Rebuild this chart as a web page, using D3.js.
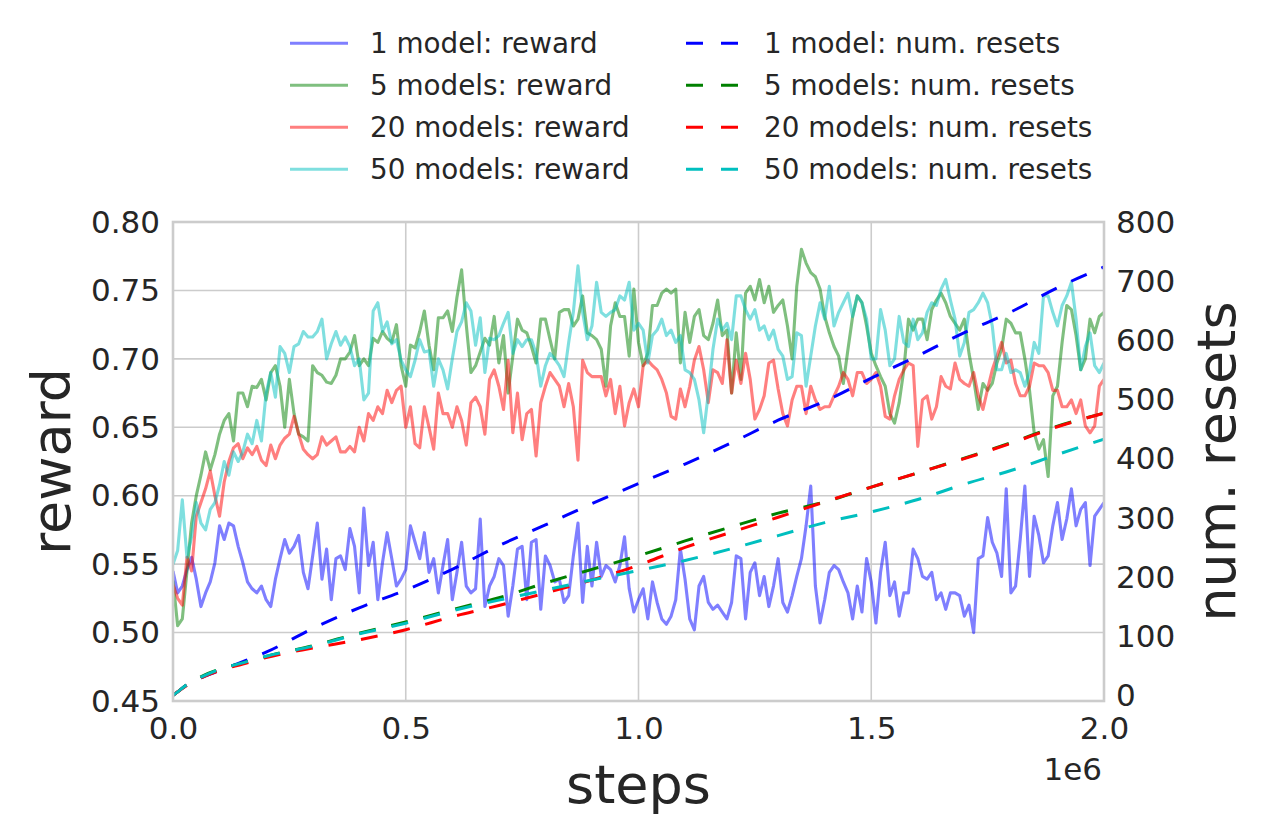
<!DOCTYPE html>
<html>
<head>
<meta charset="utf-8">
<script src="https://cdn.jsdelivr.net/npm/d3@7"></script>
<style>
  html, body { margin: 0; padding: 0; background: #ffffff; }
  svg { display: block; }
  text { font-family: "DejaVu Sans", sans-serif; fill: #262626; }
</style>
</head>
<body>
<svg id="chart" width="1266" height="834"></svg>
<script>
// ---------------- data ----------------
// reward series sampled every 10,000 steps from 0 to 2,000,000 (201 values)
const rewardStepSize = 10000;

const reward1 = [
0.545,0.529,0.534,0.546,0.555,0.539,0.519,0.529,0.537,0.551,
0.578,0.568,0.580,0.578,0.563,0.551,0.537,0.532,0.529,0.534,
0.524,0.519,0.539,0.554,0.568,0.558,0.563,0.571,0.544,0.532,
0.556,0.580,0.539,0.561,0.524,0.554,0.556,0.546,0.576,0.563,
0.529,0.591,0.549,0.566,0.524,0.551,0.573,0.554,0.534,0.539,
0.546,0.578,0.566,0.554,0.573,0.544,0.554,0.529,0.549,0.568,
0.524,0.544,0.566,0.534,0.529,0.532,0.583,0.519,0.534,0.541,
0.554,0.549,0.512,0.534,0.561,0.563,0.524,0.566,0.568,0.517,
0.556,0.549,0.537,0.539,0.522,0.527,0.556,0.580,0.522,0.563,
0.534,0.566,0.541,0.549,0.546,0.537,0.549,0.570,0.532,0.515,
0.524,0.532,0.510,0.537,0.522,0.510,0.506,0.512,0.524,0.561,
0.539,0.510,0.502,0.534,0.541,0.522,0.517,0.520,0.515,0.510,
0.522,0.556,0.554,0.510,0.544,0.551,0.527,0.541,0.519,0.534,
0.554,0.522,0.515,0.527,0.541,0.554,0.578,0.607,0.534,0.507,
0.524,0.544,0.549,0.546,0.537,0.529,0.510,0.534,0.515,0.554,
0.537,0.507,0.544,0.566,0.527,0.537,0.512,0.529,0.529,0.561,
0.554,0.541,0.539,0.544,0.524,0.529,0.517,0.529,0.529,0.527,
0.512,0.520,0.500,0.554,0.556,0.584,0.566,0.558,0.541,0.605,
0.529,0.534,0.568,0.607,0.541,0.585,0.571,0.551,0.556,0.578,
0.595,0.568,0.583,0.605,0.578,0.590,0.595,0.549,0.585,0.590,
0.595
];

const reward5 = [
0.538,0.505,0.510,0.545,0.580,0.600,0.615,0.632,0.619,0.630,
0.645,0.655,0.660,0.640,0.675,0.675,0.665,0.680,0.679,0.685,
0.670,0.690,0.695,0.680,0.650,0.685,0.660,0.645,0.643,0.640,
0.695,0.690,0.688,0.683,0.682,0.688,0.700,0.700,0.705,0.717,
0.695,0.700,0.695,0.715,0.712,0.720,0.715,0.712,0.725,0.695,
0.680,0.710,0.708,0.720,0.735,0.710,0.692,0.730,0.730,0.735,
0.720,0.745,0.765,0.725,0.690,0.695,0.705,0.715,0.710,0.731,
0.697,0.717,0.675,0.702,0.729,0.721,0.719,0.709,0.697,0.729,
0.729,0.714,0.700,0.734,0.736,0.736,0.724,0.729,0.746,0.719,
0.717,0.714,0.707,0.680,0.724,0.741,0.731,0.731,0.702,0.751,
0.712,0.695,0.704,0.739,0.739,0.748,0.751,0.748,0.751,0.697,
0.734,0.712,0.731,0.736,0.717,0.714,0.726,0.743,0.717,0.721,
0.675,0.719,0.685,0.748,0.753,0.743,0.758,0.741,0.753,0.734,
0.739,0.743,0.724,0.700,0.753,0.780,0.770,0.763,0.760,0.751,
0.731,0.719,0.709,0.702,0.682,0.707,0.731,0.746,0.741,0.724,
0.704,0.695,0.687,0.680,0.660,0.653,0.668,0.692,0.729,0.721,
0.729,0.729,0.714,0.736,0.743,0.748,0.741,0.731,0.726,0.721,
0.729,0.704,0.685,0.663,0.682,0.677,0.682,0.697,0.707,0.729,
0.726,0.719,0.719,0.700,0.677,0.646,0.634,0.641,0.614,0.673,
0.680,0.712,0.739,0.736,0.717,0.692,0.700,0.729,0.719,0.731,
0.734
];

const reward20 = [
0.535,0.525,0.520,0.555,0.545,0.585,0.595,0.605,0.618,0.600,
0.585,0.610,0.625,0.635,0.638,0.627,0.635,0.630,0.636,0.626,
0.622,0.637,0.627,0.637,0.642,0.645,0.658,0.645,0.634,0.630,
0.627,0.630,0.643,0.637,0.640,0.643,0.632,0.632,0.636,0.632,
0.650,0.640,0.660,0.655,0.665,0.660,0.677,0.668,0.677,0.680,
0.650,0.665,0.638,0.635,0.665,0.650,0.634,0.675,0.660,0.660,
0.650,0.665,0.655,0.637,0.668,0.672,0.665,0.645,0.685,0.692,
0.680,0.663,0.699,0.646,0.675,0.641,0.660,0.663,0.629,0.668,
0.680,0.690,0.685,0.680,0.665,0.682,0.665,0.626,0.699,0.690,
0.687,0.687,0.687,0.673,0.685,0.660,0.680,0.651,0.668,0.678,
0.665,0.695,0.699,0.695,0.692,0.685,0.675,0.658,0.656,0.678,
0.665,0.680,0.699,0.709,0.692,0.668,0.692,0.690,0.682,0.714,
0.675,0.699,0.682,0.704,0.685,0.656,0.663,0.673,0.697,0.699,
0.678,0.660,0.651,0.670,0.680,0.680,0.660,0.680,0.670,0.663,
0.665,0.665,0.673,0.680,0.690,0.685,0.673,0.690,0.690,0.682,
0.685,0.690,0.680,0.658,0.656,0.673,0.685,0.692,0.697,0.695,
0.636,0.670,0.673,0.656,0.665,0.687,0.680,0.678,0.697,0.685,
0.682,0.680,0.690,0.673,0.663,0.678,0.692,0.702,0.712,0.697,
0.699,0.682,0.673,0.673,0.680,0.697,0.695,0.695,0.690,0.677,
0.677,0.665,0.665,0.670,0.660,0.670,0.651,0.646,0.651,0.680,
0.685
];

const reward50 = [
0.550,0.560,0.597,0.555,0.570,0.595,0.580,0.575,0.590,0.595,
0.608,0.625,0.615,0.632,0.625,0.632,0.645,0.638,0.655,0.640,
0.675,0.690,0.672,0.709,0.704,0.690,0.709,0.711,0.720,0.716,
0.716,0.720,0.729,0.700,0.711,0.720,0.710,0.716,0.709,0.695,
0.700,0.670,0.675,0.735,0.741,0.720,0.727,0.711,0.714,0.699,
0.692,0.687,0.699,0.714,0.705,0.706,0.680,0.700,0.692,0.678,
0.700,0.720,0.727,0.741,0.735,0.710,0.730,0.690,0.715,0.714,
0.717,0.726,0.734,0.704,0.714,0.709,0.714,0.714,0.704,0.680,
0.695,0.704,0.700,0.695,0.687,0.712,0.734,0.768,0.734,0.714,
0.724,0.756,0.734,0.731,0.734,0.736,0.746,0.743,0.756,0.721,
0.726,0.721,0.697,0.717,0.721,0.729,0.717,0.721,0.712,0.717,
0.692,0.690,0.685,0.670,0.646,0.675,0.707,0.729,0.721,0.726,
0.714,0.746,0.746,0.736,0.729,0.736,0.721,0.724,0.714,0.721,
0.707,0.702,0.685,0.687,0.719,0.717,0.680,0.702,0.724,0.741,
0.729,0.753,0.724,0.734,0.741,0.748,0.731,0.746,0.741,0.729,
0.700,0.700,0.736,0.721,0.695,0.700,0.731,0.712,0.709,0.729,
0.714,0.719,0.734,0.741,0.739,0.751,0.758,0.743,0.729,0.702,
0.712,0.734,0.736,0.741,0.748,0.741,0.724,0.692,0.692,0.704,
0.690,0.692,0.690,0.680,0.690,0.712,0.704,0.746,0.746,0.734,
0.724,0.739,0.746,0.756,0.729,0.692,0.709,0.719,0.695,0.690,
0.697
];

// number of resets (right axis)
const resetSteps = [0, 10000, 30000, 64000, 100000, 150000, 200000, 300000, 400000, 500000,
  600000, 700000, 800000, 900000, 1000000, 1100000, 1200000, 1300000, 1400000, 1500000,
  1600000, 1700000, 1800000, 1900000, 2000000];
const resets1  = [0, 6, 18, 31, 42, 57, 73, 113, 148, 178, 213, 253, 288, 324, 358, 391, 427, 465, 497, 536, 574, 613, 648, 689, 724];
const resets5  = [0, 6, 18, 33, 44, 55, 66, 84, 105, 124, 145, 165, 190, 213, 236, 261, 285, 308, 327, 352, 376, 401, 427, 455, 477];
const resets20 = [0, 6, 17, 31, 42, 53, 64, 80, 94, 111, 133, 152, 173, 195, 220, 250, 276, 301, 327, 352, 376, 400, 426, 454, 477];
const resets50 = [0, 6, 18, 32, 44, 55, 66, 83, 104, 122, 143, 161, 178, 195, 211, 228, 248, 270, 292, 310, 331, 357, 380, 407, 433];

const xTicks = [0, 500000, 1000000, 1500000, 2000000];
const yLeftTicks = [0.45, 0.50, 0.55, 0.60, 0.65, 0.70, 0.75, 0.80];
const yRightTicks = [0, 100, 200, 300, 400, 500, 600, 700, 800];

const rewardSeries = [
  { label: "1 model: reward",   values: reward1,  color: "#0000ff" },
  { label: "5 models: reward",  values: reward5,  color: "#008000" },
  { label: "20 models: reward", values: reward20, color: "#ff0000" },
  { label: "50 models: reward", values: reward50, color: "#00bfbf" }
];
const resetSeries = [
  { label: "1 model: num. resets",   values: resets1,  color: "#0000ff" },
  { label: "5 models: num. resets",  values: resets5,  color: "#008000" },
  { label: "20 models: num. resets", values: resets20, color: "#ff0000" },
  { label: "50 models: num. resets", values: resets50, color: "#00bfbf" }
];

// ---------------- layout ----------------
const L = 173, R = 1104, T = 222, B = 701;
const svg = d3.select("#chart");

const x = d3.scaleLinear().domain([0, 2000000]).range([L, R]);
const yL = d3.scaleLinear().domain([0.45, 0.80]).range([B, T]);
const yR = d3.scaleLinear().domain([-9.5, 800]).range([B, T]);

// gridlines
const grid = svg.append("g");
grid.selectAll("line.hg").data(yLeftTicks.slice(1, -1)).join("line")
  .attr("x1", L).attr("x2", R)
  .attr("y1", d => yL(d)).attr("y2", d => yL(d))
  .attr("stroke", "#cccccc").attr("stroke-width", 1.6);
grid.selectAll("line.vg").data(xTicks.slice(1, -1)).join("line")
  .attr("y1", T).attr("y2", B)
  .attr("x1", d => x(d)).attr("x2", d => x(d))
  .attr("stroke", "#cccccc").attr("stroke-width", 1.6);

// clip
svg.append("clipPath").attr("id", "plotclip")
  .append("rect").attr("x", L).attr("y", T).attr("width", R - L).attr("height", B - T);

const plot = svg.append("g").attr("clip-path", "url(#plotclip)");

const rewardLine = d3.line()
  .x((d, i) => x(i * rewardStepSize))
  .y(d => yL(d));

rewardSeries.forEach(s => {
  plot.append("path")
    .datum(s.values)
    .attr("d", rewardLine)
    .attr("fill", "none")
    .attr("stroke", s.color)
    .attr("stroke-opacity", 0.5)
    .attr("stroke-width", 3.1)
    .attr("stroke-linejoin", "round");
});

const resetLine = d3.line()
  .x((d, i) => x(resetSteps[i]))
  .y(d => yR(d))
  .curve(d3.curveMonotoneX);

resetSeries.forEach(s => {
  plot.append("path")
    .datum(s.values)
    .attr("d", resetLine)
    .attr("fill", "none")
    .attr("stroke", s.color)
    .attr("stroke-width", 3)
    .attr("stroke-dasharray", "17,16");
});

// frame
svg.append("rect")
  .attr("x", L).attr("y", T).attr("width", R - L).attr("height", B - T)
  .attr("fill", "none").attr("stroke", "#cccccc").attr("stroke-width", 2.6);

// axes
const tickFont = 31;
const xAxis = d3.axisBottom(x).tickValues(xTicks)
  .tickFormat(d => (d / 1e6).toFixed(1)).tickSize(0).tickPadding(16);
const gx = svg.append("g").attr("transform", `translate(0,${B})`).call(xAxis);

const yAxisL = d3.axisLeft(yL).tickValues(yLeftTicks)
  .tickFormat(d3.format(".2f")).tickSize(0).tickPadding(13);
const gyl = svg.append("g").attr("transform", `translate(${L},0)`).call(yAxisL);

const yAxisR = d3.axisRight(yR).tickValues(yRightTicks)
  .tickFormat(d3.format("d")).tickSize(0).tickPadding(12);
const gyr = svg.append("g").attr("transform", `translate(${R},0)`).call(yAxisR);

[gx, gyl, gyr].forEach(g => {
  g.select(".domain").remove();
  g.selectAll("text")
    .attr("font-family", "DejaVu Sans")
    .attr("font-size", tickFont)
    .attr("fill", "#262626");
});
gyl.selectAll("text").attr("dy", "0.33em");
gyr.selectAll("text").attr("dy", "0.33em");

// offset label
svg.append("text")
  .attr("x", 1102).attr("y", 780)
  .attr("text-anchor", "end")
  .attr("font-size", tickFont)
  .text("1e6");

// axis titles
svg.append("text")
  .attr("x", (L + R) / 2).attr("y", 803)
  .attr("text-anchor", "middle")
  .attr("font-size", 54)
  .text("steps");

svg.append("text")
  .attr("transform", `translate(70,${(T + B) / 2}) rotate(-90)`)
  .attr("text-anchor", "middle")
  .attr("font-size", 54)
  .text("reward");

svg.append("text")
  .attr("transform", `translate(1235,${(T + B) / 2}) rotate(-90)`)
  .attr("text-anchor", "middle")
  .attr("font-size", 54)
  .text("num. resets");

// legend
const legendRows = [43.3, 85.3, 127.3, 169.3];
const leg = svg.append("g");
rewardSeries.forEach((s, i) => {
  const y = legendRows[i];
  leg.append("line")
    .attr("x1", 290).attr("x2", 348).attr("y1", y).attr("y2", y)
    .attr("stroke", s.color).attr("stroke-opacity", 0.5).attr("stroke-width", 3);
  leg.append("text")
    .attr("x", 370).attr("y", y + 10)
    .attr("font-size", 27.8)
    .text(s.label);
});
resetSeries.forEach((s, i) => {
  const y = legendRows[i];
  leg.append("line")
    .attr("x1", 686).attr("x2", 738).attr("y1", y).attr("y2", y)
    .attr("stroke", s.color).attr("stroke-width", 3)
    .attr("stroke-dasharray", "17,18");
  leg.append("text")
    .attr("x", 764).attr("y", y + 10)
    .attr("font-size", 27.8)
    .text(s.label);
});
</script>
</body>
</html>
